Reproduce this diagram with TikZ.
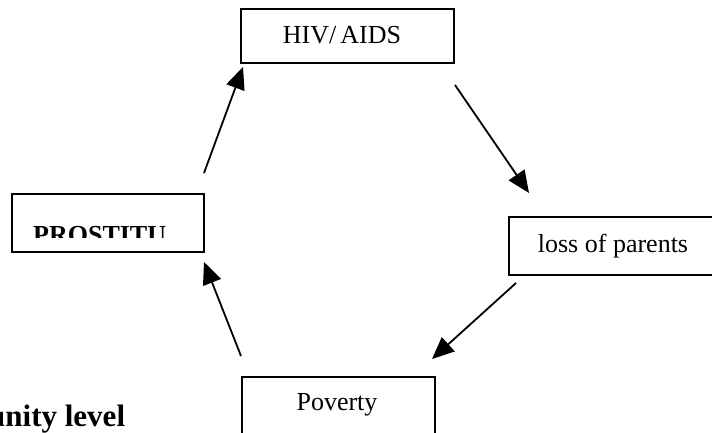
\documentclass[tikz,border=0pt]{standalone}
\usepackage{fontspec}
\setmainfont{Liberation Serif}
\usetikzlibrary{arrows.meta}
\begin{document}
\begin{tikzpicture}[x=1pt,y=-1pt,
  box/.style={draw=black, line width=1.6pt, fill=none, inner sep=0pt},
  lbl/.style={inner sep=0pt, font=\fontsize{26}{30}\selectfont},
  conn/.style={line width=1.8pt, -{Triangle[length=22pt,width=19pt]}}]
\useasboundingbox (0,0) rectangle (712,432);
% boxes
\node[box, minimum width=213pt, minimum height=54pt, anchor=north west] (hivbox) at (240,8) {};
\node[lbl, anchor=base] (hiv) at (342,43) {HIV/\kern4pt AIDS};
\node[box, minimum width=192pt, minimum height=58pt, anchor=north west] (probox) at (11,193) {};
\begin{scope}
\clip (11,193) rectangle (203,237);
\node[lbl, font=\fontsize{26}{30}\selectfont\bfseries, anchor=base west] (pro) at (33,243) {PROSTITU};
\end{scope}
\node[box, minimum width=230pt, minimum height=58pt, anchor=north west] (lossbox) at (508,216) {};
\node[lbl] (loss) at (613,246) {loss of parents};
\node[box, minimum width=193pt, minimum height=70pt, anchor=north west] (povbox) at (241,376) {};
\node[lbl, anchor=base] (pov) at (337,410) {Poverty};
\node[inner sep=0pt, anchor=base west, font=\fontsize{31}{36}\selectfont\bfseries] (lvl) at (-12,426) {unity level};
% connector endpoints
\coordinate (a1) at (204,173); \coordinate (b1) at (243,67);
\coordinate (a2) at (455,85);  \coordinate (b2) at (529,193);
\coordinate (a3) at (516,283); \coordinate (b3) at (432,359);
\coordinate (a4) at (241,356); \coordinate (b4) at (204,262);
\draw[conn] (a1) -- (b1);
\draw[conn] (a2) -- (b2);
\draw[conn] (a3) -- (b3);
\draw[conn] (a4) -- (b4);
\end{tikzpicture}
\end{document}
